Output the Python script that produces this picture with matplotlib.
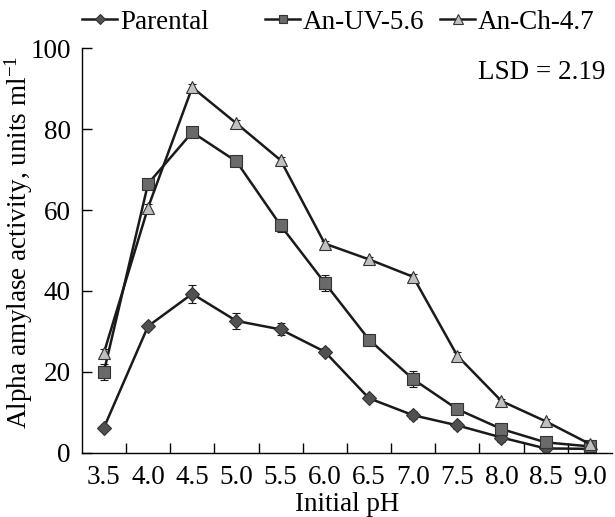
import matplotlib
matplotlib.use("Agg")
import matplotlib.pyplot as plt
import numpy as np

ph_labels = ["3.5", "4.0", "4.5", "5.0", "5.5", "6.0", "6.5", "7.0", "7.5", "8.0", "8.5", "9.0"]

parental = [6.2, 31.3, 39.3, 32.6, 30.5, 25.0, 13.5, 9.3, 6.8, 3.8, 1.1, 1.0]
parental_err = [0.5, 0.8, 2.2, 2.0, 1.5, 0.8, 0.8, 1.0, 0.8, 1.0, 0.5, 0.4]

an_uv = [20.0, 66.5, 79.2, 72.0, 56.2, 42.0, 28.0, 18.2, 10.8, 5.9, 2.6, 1.6]
an_uv_err = [2.0, 0.8, 0.8, 0.6, 1.6, 2.0, 0.8, 2.0, 0.8, 0.8, 0.5, 0.4]

an_ch = [24.7, 60.6, 90.3, 81.4, 72.3, 51.7, 47.8, 43.5, 24.0, 12.8, 7.8, 2.2]
an_ch_err = [1.0, 0.8, 0.8, 0.8, 0.8, 0.6, 0.6, 0.6, 0.8, 0.6, 0.5, 0.4]

FS = 19.5

plt.rcParams["font.family"] = ["Liberation Serif", "DejaVu Serif"]
plt.rcParams["mathtext.fontset"] = "custom"
plt.rcParams["mathtext.rm"] = "Liberation Serif"
plt.rcParams["mathtext.it"] = "Liberation Serif:italic"

fig = plt.figure(figsize=(6.15, 5.17), dpi=100)
ax = fig.add_axes([0.133, 0.124, 0.862, 0.783])

x = np.arange(len(ph_labels))
series = [
    ("Parental", parental, parental_err, "D", "#505050", 7),
    ("An-UV-5.6", an_uv, an_uv_err, "s", "#6a6a6a", 8),
    ("An-Ch-4.7", an_ch, an_ch_err, "^", "#c0c0c0", 9),
]
for name, vals, err, mk, fc, ms in series:
    ax.errorbar(x, vals, yerr=err, color="#1a1a1a", lw=1.8, marker=mk, ms=ms,
                mfc=fc, mec="#333333", mew=0.8, capsize=3, elinewidth=1,
                ecolor="#1a1a1a", label=name)

ax.set_xlim(-0.5, len(ph_labels) - 0.5)
ax.set_ylim(0, 100)
ax.set_xticks(x)
ax.set_xticklabels(ph_labels)
ax.set_xticks(np.arange(0.5, len(ph_labels) - 0.5, 1), minor=True)
ax.tick_params(axis="x", which="major", length=0, labelsize=FS, pad=9)
ax.tick_params(axis="x", which="minor", direction="in", length=7, width=1)
ax.set_yticks([0, 20, 40, 60, 80, 100])
ax.tick_params(axis="y", direction="in", length=7, width=1, labelsize=FS, pad=8)

for s in ["top", "right"]:
    ax.spines[s].set_visible(False)
for s in ["left", "bottom"]:
    ax.spines[s].set_linewidth(1)

ax.set_xlabel("Initial pH", fontsize=FS, labelpad=1)
ax.set_ylabel("Alpha amylase activity, units ml$^{-1}$", fontsize=FS)
ax.yaxis.set_label_coords(-0.088, 0.52)
ax.text(0.987, 0.94, "LSD = 2.19", transform=ax.transAxes, ha="right", va="center", fontsize=FS)

# legend entries sit at uneven spacing in the original, so place each one
handles, labels = ax.get_legend_handles_labels()
legend_x = [82, 265, 440]
for h, lab, lx in zip(handles, labels, legend_x):
    fig.legend([h[0]], [lab], loc="center left", bbox_to_anchor=(lx / 615, 0.957),
               frameon=False, fontsize=FS, handlelength=1.3, handletextpad=0.1,
               borderpad=0, borderaxespad=0, markerscale=0.8)

fig.savefig("out.png", dpi=100)
